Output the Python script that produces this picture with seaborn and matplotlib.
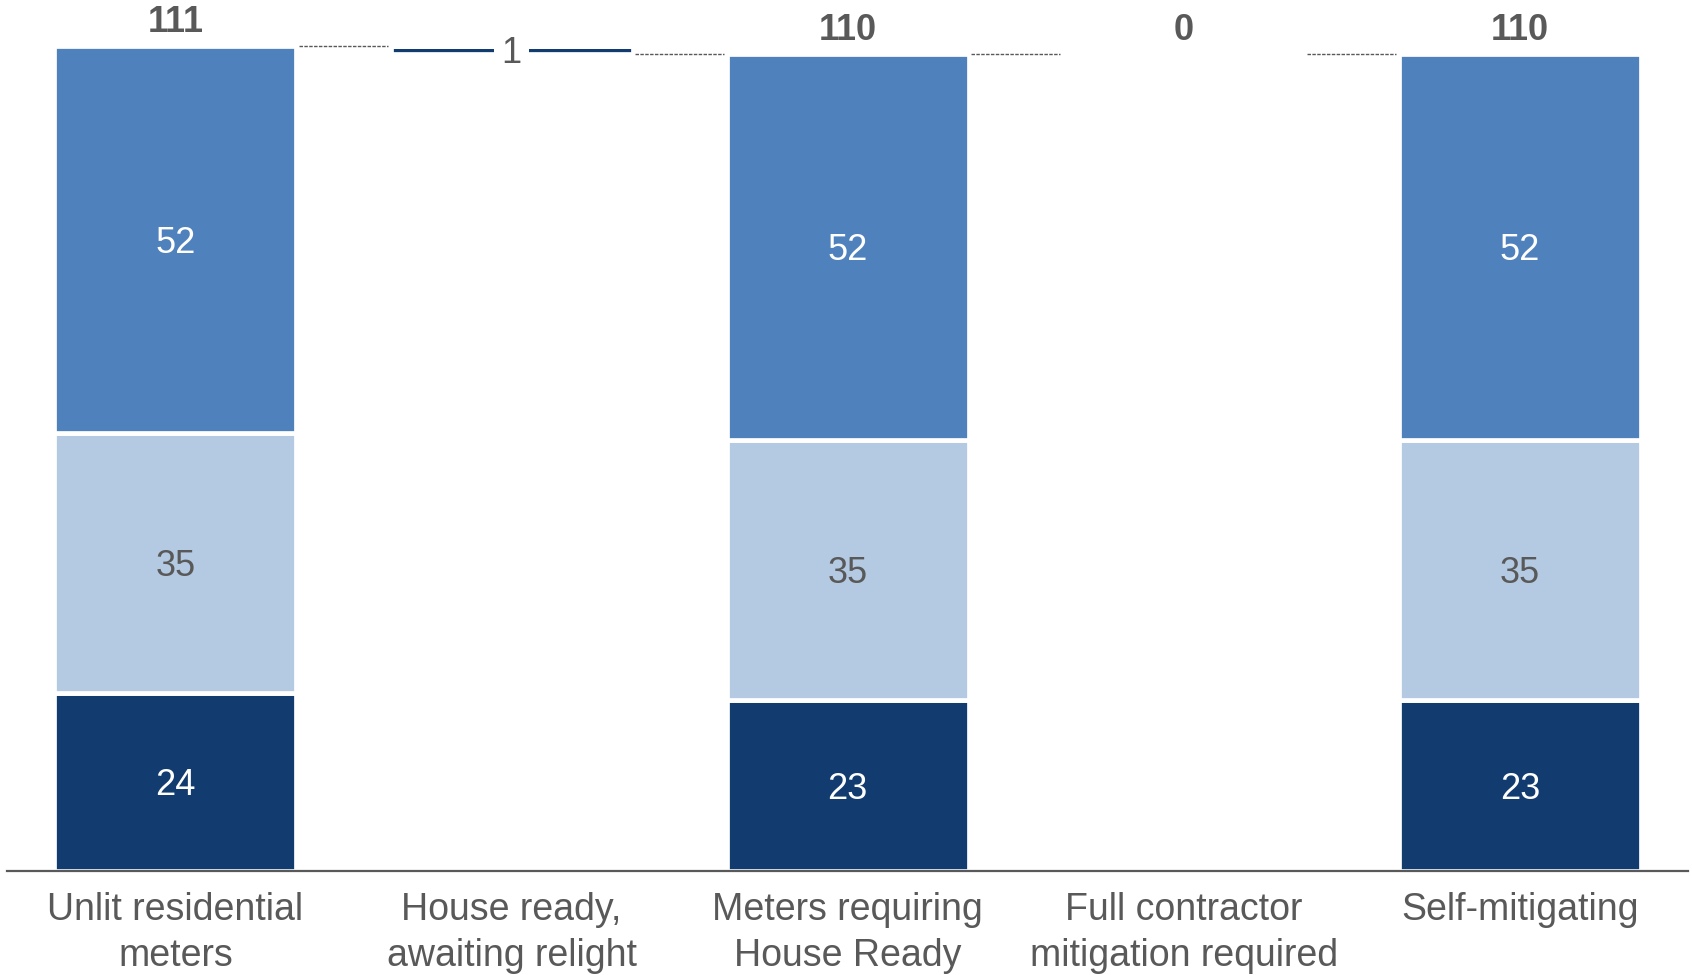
import matplotlib
matplotlib.use("Agg")
import matplotlib.pyplot as plt
import seaborn as sns
import numpy as np

# ---- data ----
categories = ["Unlit residential\nmeters", "House ready,\nawaiting relight",
              "Meters requiring\nHouse Ready", "Full contractor\nmitigation required",
              "Self-mitigating"]
kinds = ["total", "step", "total", "step", "total"]
dark_vals = [24, 1, 23, 0, 23]
light_vals = [35, 0, 35, 0, 35]
mid_vals = [52, 0, 52, 0, 52]
step_base = [0, 110, 0, 110, 0]

# ---- style ----
DARK = "#123C6F"
LIGHT = "#B4CAE3"
MID = "#4F81BD"
GRAY = "#595959"

sns.set_style("white")
plt.rcParams["font.family"] = ["Liberation Sans", "DejaVu Sans"]

fig = plt.figure(figsize=(16.92, 9.75), dpi=100)
ax = fig.add_axes([0.0044, 0.1067, 0.9932, 0.8933])

dark = np.array(dark_vals, float)
light = np.array(light_vals, float)
mid = np.array(mid_vals, float)
base = np.array(step_base, float)

W = 0.72
common = dict(x=categories, order=categories, saturation=1, width=W,
              edgecolor="white", linewidth=3.4, errorbar=None, ax=ax)
sns.barplot(y=dark, bottom=base, color=DARK, **common)
sns.barplot(y=light, bottom=base + dark, color=LIGHT, **common)
sns.barplot(y=mid, bottom=base + dark + light, color=MID, **common)

tops = base + dark + light + mid
after = [tops[i] if kinds[i] == "total" else base[i] for i in range(len(categories))]

# segment labels
for i, k in enumerate(kinds):
    if k == "total":
        for b, h, c in [(base[i], dark[i], "white"),
                        (base[i] + dark[i], light[i], GRAY),
                        (base[i] + dark[i] + light[i], mid[i], "white")]:
            ax.text(i, b + h / 2, f"{int(h)}", ha="center", va="center_baseline",
                    fontsize=26, color=c)
        ax.annotate(f"{int(tops[i])}", (i, tops[i]), xytext=(0, 19.5),
                    textcoords="offset points", ha="center", va="center_baseline",
                    fontsize=26, fontweight="bold", color=GRAY)
    else:
        if dark[i] > 0:
            ax.text(i, base[i] + dark[i] / 2, f"{int(dark[i])}", ha="center",
                    va="center_baseline", fontsize=26, color=GRAY,
                    bbox=dict(boxstyle="square,pad=0.2", fc="white", ec="none"))
        else:
            ax.annotate(f"{int(dark[i])}", (i, tops[i]), xytext=(0, 19.5),
                        textcoords="offset points", ha="center", va="center_baseline",
                        fontsize=26, fontweight="bold", color=GRAY)

# connectors
for i in range(len(categories) - 1):
    ax.hlines(after[i], i + W / 2 + 0.008, i + 1 - W / 2 - 0.008,
              colors=GRAY, linewidth=1.0, linestyles=(0, (2.5, 1)))

ax.set_xlim(-0.5, len(categories) - 0.5)
ax.set_ylim(0, 117.2)
ax.set_ylabel("")
ax.set_xlabel("")
ax.set_yticks([])
for s in ["top", "right", "left"]:
    ax.spines[s].set_visible(False)
ax.spines["bottom"].set_color(GRAY)
ax.spines["bottom"].set_linewidth(1.6)
ax.tick_params(axis="x", length=0, pad=15, labelsize=27, labelcolor=GRAY)
for lbl in ax.get_xticklabels():
    lbl.set_linespacing(1.36)

fig.savefig("out.png", dpi=100)
